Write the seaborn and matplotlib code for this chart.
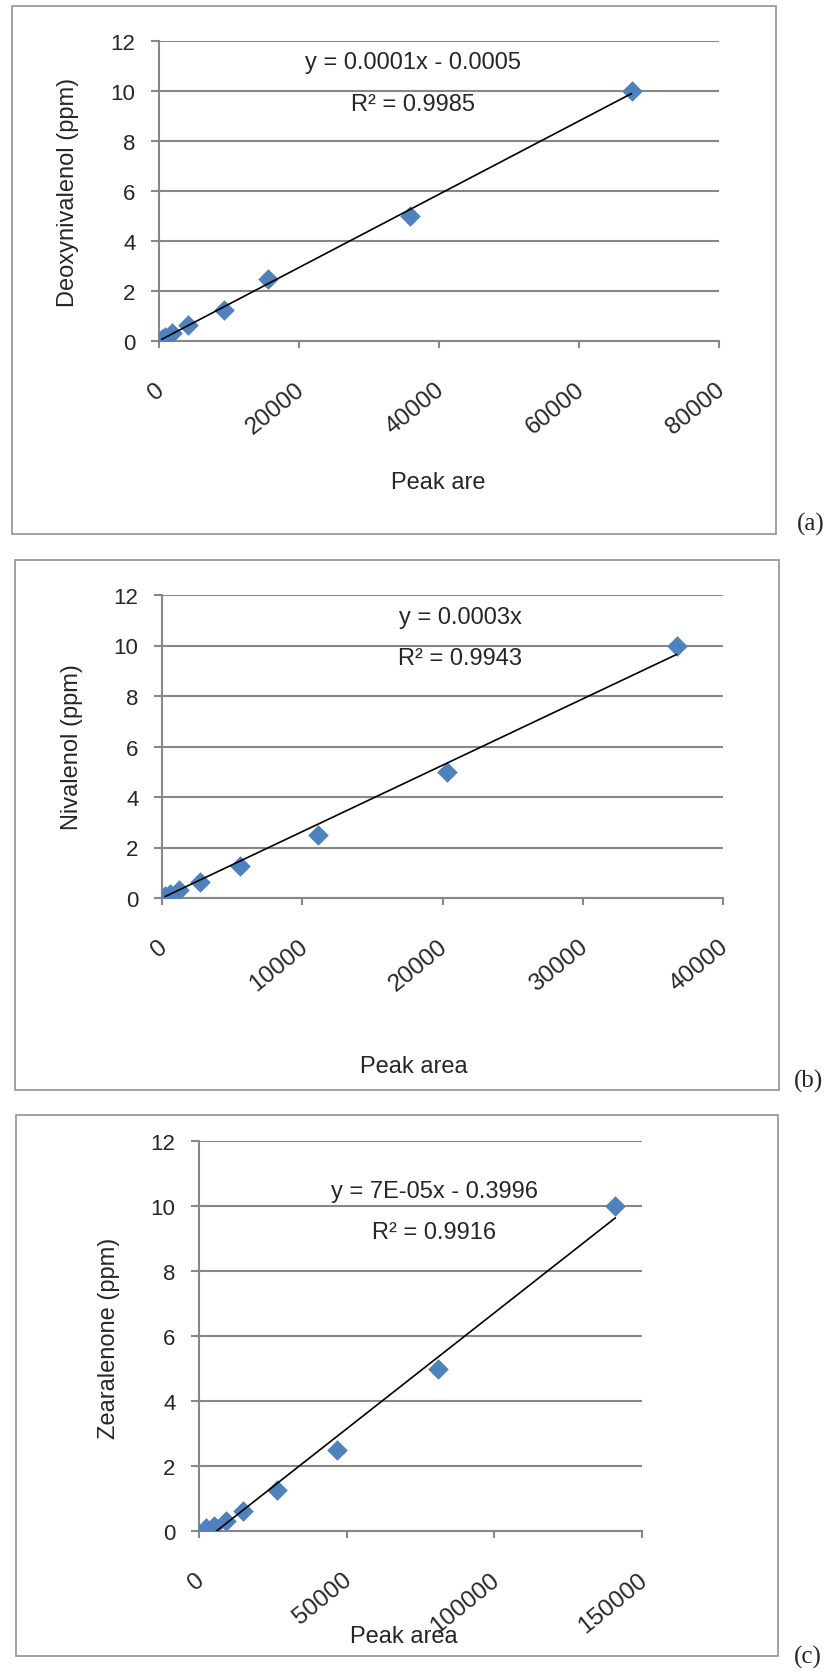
import numpy as np
import matplotlib
matplotlib.use('Agg')
import matplotlib.pyplot as plt
import seaborn as sns
from matplotlib.patches import Rectangle
from matplotlib.transforms import ScaledTranslation

# concentrations (ppm) of the standards
conc = [0.078, 0.156, 0.3125, 0.625, 1.25, 2.5, 5, 10]

# peak areas
don_area = [400, 900, 1800, 4200, 9300, 15600, 35800, 67500]
niv_area = [215, 570, 1220, 2720, 5580, 11100, 20300, 36700]
zea_area = [2500, 5000, 9000, 15000, 26400, 46700, 81000, 141000]

x_ticks_a = [0, 20000, 40000, 60000, 80000]
x_ticks_b = [0, 10000, 20000, 30000, 40000]
x_ticks_c = [0, 50000, 100000, 150000]
y_ticks = [0, 2, 4, 6, 8, 10, 12]

sns.set_style('white')
plt.rcParams['font.family'] = ['Liberation Sans', 'DejaVu Sans']

W, H = 830, 1674
fig = plt.figure(figsize=(W / 100, H / 100), dpi=100)

GRID = '#878787'
BLUE = '#4F81BD'


def fx(px):
    return px / W


def fy(py):
    return 1 - py / H


def panel(area, ylab, xlab, ticks, plot_px, box_px, eq, r2, eq_px, r2_px,
          xlab_px, ylab_px, tag, tag_px, through_origin=False):
    x0, y0, x1, y1 = plot_px
    ax = fig.add_axes([fx(x0), fy(y1), (x1 - x0) / W, (y1 - y0) / H])

    # outer frame of the chart
    bx0, by0, bx1, by1 = box_px
    fig.patches.append(Rectangle((fx(bx0), fy(by1)), (bx1 - bx0) / W, (by1 - by0) / H,
                                 transform=fig.transFigure, fill=False,
                                 edgecolor='#9a9a9a', lw=1.3))

    sns.scatterplot(x=area, y=conc, marker='D', s=110, color=BLUE,
                    edgecolor=BLUE, linewidth=0, ax=ax, zorder=3)

    # linear trend line
    xa = np.array(area, dtype=float)
    ya = np.array(conc, dtype=float)
    if through_origin:
        slope = (xa * ya).sum() / (xa * xa).sum()
        icpt = 0.0
    else:
        slope, icpt = np.polyfit(xa, ya, 1)
    xs = np.array([xa.min(), xa.max()])
    ax.plot(xs, slope * xs + icpt, color='black', lw=1.2, zorder=4)

    ax.set_xlim(ticks[0], ticks[-1])
    ax.set_ylim(0, 12)
    ax.set_xticks(ticks)
    ax.set_yticks(y_ticks)
    ax.set_xticklabels([str(t) for t in ticks])
    ax.set_yticklabels([str(t) for t in y_ticks])

    ax.grid(axis='y', color=GRID, lw=1.5)
    ax.grid(axis='x', visible=False)
    ax.set_axisbelow(True)
    for s in ['top', 'right']:
        ax.spines[s].set_visible(False)
    for s in ['left', 'bottom']:
        ax.spines[s].set_color(GRID)
        ax.spines[s].set_linewidth(1.5)
    ax.spines['bottom'].set_zorder(0.5)

    ax.tick_params(axis='y', direction='out', length=6, width=1.5, color=GRID,
                   labelsize=16, pad=11, left=True)
    ax.tick_params(axis='x', direction='out', length=5, width=1.5, color=GRID,
                   labelsize=17.5, pad=28, bottom=True)
    for lab in ax.get_xticklabels():
        lab.set_rotation(39)
        lab.set_ha('right')
        lab.set_va('center')
        lab.set_rotation_mode('anchor')
        lab.set_transform(lab.get_transform() +
                          ScaledTranslation(2 / 72, 0, fig.dpi_scale_trans))

    ax.set_xlabel(xlab, fontsize=17)
    ax.set_ylabel(ylab, fontsize=17)
    ax.xaxis.set_label_coords((xlab_px[0] - x0) / (x1 - x0), (y1 - xlab_px[1]) / (y1 - y0))
    ax.xaxis.label.set_va('center')
    ax.yaxis.set_label_coords((ylab_px[0] - x0) / (x1 - x0), (y1 - ylab_px[1]) / (y1 - y0))
    ax.yaxis.label.set_va('center')

    fig.text(fx(eq_px[0]), fy(eq_px[1]), eq, fontsize=17, ha='center', va='center')
    fig.text(fx(r2_px[0]), fy(r2_px[1]), r2, fontsize=17, ha='center', va='center')
    fig.text(fx(tag_px[0]), fy(tag_px[1]), tag, fontsize=18, ha='center', va='center',
             family=['Liberation Serif', 'DejaVu Serif'])
    return ax


panel(don_area, 'Deoxynivalenol (ppm)', 'Peak are', x_ticks_a,
      (159, 42, 719, 342), (12, 7, 776, 535),
      'y = 0.0001x - 0.0005', 'R² = 0.9985', (413, 63), (413, 105),
      (438, 483), (68, 192), '(a)', (811, 524))

panel(niv_area, 'Nivalenol (ppm)', 'Peak area', x_ticks_b,
      (162, 596, 723, 899), (15, 561, 779, 1091),
      'y = 0.0003x', 'R² = 0.9943', (460, 618), (460, 659),
      (414, 1067), (72, 747), '(b)', (808, 1081), through_origin=True)

panel(zea_area, 'Zearalenone (ppm)', 'Peak area', x_ticks_c,
      (199, 1142, 642, 1532), (16, 1116, 778, 1657),
      'y = 7E-05x - 0.3996', 'R² = 0.9916', (434, 1192), (434, 1233),
      (404, 1637), (109, 1338), '(c)', (808, 1657))

fig.savefig('out.png', dpi=100)
